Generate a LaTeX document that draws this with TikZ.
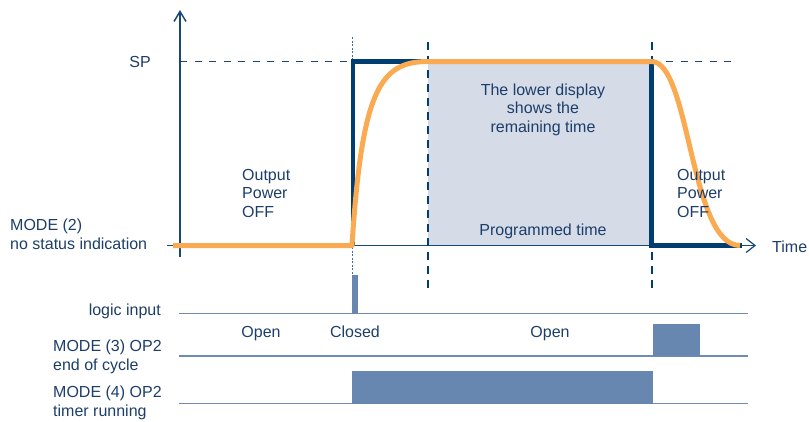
\documentclass[tikz,border=0pt]{standalone}
\usepackage{fontspec}
\setmainfont{Liberation Sans}
\usetikzlibrary{arrows.meta}
\definecolor{navy}{RGB}{0,62,114}
\definecolor{txt}{RGB}{28,62,105}
\definecolor{orng}{RGB}{250,170,80}
\definecolor{grayfill}{RGB}{213,220,232}
\definecolor{boxblue}{RGB}{104,135,176}
\definecolor{axiscol}{RGB}{25,72,120}
\definecolor{linecol}{RGB}{110,140,180}
\begin{document}
\begin{tikzpicture}[x=1pt,y=-1pt,
  lbl/.style={text=txt, font=\fontsize{16}{18.7}\selectfont, inner sep=0pt},
  axisline/.style={draw=axiscol, line width=1.5pt},
  spdash/.style={draw=axiscol, line width=1.3pt, dash pattern=on 7pt off 7.5pt},
  vdash/.style={draw=navy, line width=1.3pt, dash pattern=on 8pt off 6pt},
  vdot/.style={draw=axiscol!80, line width=1pt, dash pattern=on 2pt off 1.5pt},
  sigline/.style={draw=linecol, line width=1.8pt},
  sigbox/.style={fill=boxblue, draw=none},
  stepline/.style={draw=navy, line width=4.5pt, line join=miter},
  pvline/.style={draw=orng, line width=5pt, line join=round}]
\useasboundingbox (0,0) rectangle (809,421);

% key coordinates
\coordinate (origin) at (180,245.5);
\coordinate (ytop) at (180,10);
\coordinate (ybot) at (180,257);
\coordinate (xleft) at (167,245.5);
\coordinate (xend) at (756,245.5);
\coordinate (spL) at (180,61.5);
\coordinate (t0) at (352.5,61.5);
\coordinate (t1) at (428,61.5);
\coordinate (t2) at (651.5,61.5);
\coordinate (spR) at (731,61.5);
\coordinate (b0) at (353,245.5);
\coordinate (b2) at (651.5,245.5);
\coordinate (bend) at (742,245.5);

% programmed time area
\fill[grayfill] (t1) rectangle (b2);

% axes
\draw[axisline, -{Straight Barb[length=10pt,width=12pt]}] (ybot) -- (ytop);
\draw[axisline, line width=1.2pt, -{Straight Barb[length=9pt,width=14pt]}] (xleft) -- (xend);

% SP dashed lines
\draw[spdash] (spL) -- (t0);
\draw[spdash] (t2) -- (spR);

% vertical markers
\coordinate (v0top) at (352.5,37);
\coordinate (v0bot) at (352.5,275);
\coordinate (v1top) at (428,42);
\coordinate (v1bot) at (428,292);
\coordinate (v2top) at (652,42);
\coordinate (v2bot) at (652,292);
\draw[vdot] (v0top) -- (v0bot);
\draw[vdash] (v1top) -- (v1bot);
\draw[vdash] (v2top) -- (v2bot);

% setpoint step (navy)
\draw[stepline] (b0) -- (353,61.5) -- (t2) -- (b2) -- (bend);

% process value (orange)
\coordinate (pvstart) at (173,245.5);
\coordinate (pvend) at (740,245.5);
\draw[pvline] (pvstart) -- (352,245.5) .. controls (362,90) and (380,61.5) .. (t1) -- (t2)
  .. controls (690,61.5) and (690,245.5) .. (pvend);

% bottom signal lines
\coordinate (l1a) at (179,313.5); \coordinate (l1b) at (748,313.5);
\coordinate (l2a) at (179,356);   \coordinate (l2b) at (748,356);
\coordinate (l3a) at (179,403.5); \coordinate (l3b) at (748,403.5);
\draw[sigline] (l1a) -- (l1b);
\draw[sigline] (l2a) -- (l2b);
\draw[sigline] (l3a) -- (l3b);

% signal pulses
\fill[sigbox] (352,275) rectangle (357.5,313.5);
\fill[sigbox] (653,324) rectangle (700,356);
\fill[sigbox] (352,370.5) rectangle (653,403.5);

% labels (multi-line nodes: base anchor = last line's baseline)
\node[lbl, anchor=base] (sp) at (140,67) {SP};
\node[lbl, anchor=base west, align=left] (offL) at (242,217.5) {Output\\Power\\OFF};
\node[lbl, anchor=base west, align=left] (mode2) at (10,249.5) {MODE (2)\\no status indication};
\node[lbl, anchor=base, align=center] (disp) at (543,132.5) {The lower display\\shows the\\remaining time};
\node[lbl, anchor=base] (prog) at (543,235) {Programmed time};
\node[lbl, anchor=base west, align=left] (offR) at (677,217.5) {Output\\Power\\OFF};
\node[lbl, anchor=base west] (time) at (772,252) {Time};
\node[lbl, anchor=base east] (logic) at (161,315) {logic input};
\node[lbl, anchor=base] (open1) at (261,337) {Open};
\node[lbl, anchor=base] (closed) at (355,337) {Closed};
\node[lbl, anchor=base] (open2) at (550,337) {Open};
\node[lbl, anchor=base west, align=left] (mode3) at (53,370) {MODE (3) OP2\\end of cycle};
\node[lbl, anchor=base west, align=left] (mode4) at (53,416.5) {MODE (4) OP2\\timer running};
\end{tikzpicture}
\end{document}
